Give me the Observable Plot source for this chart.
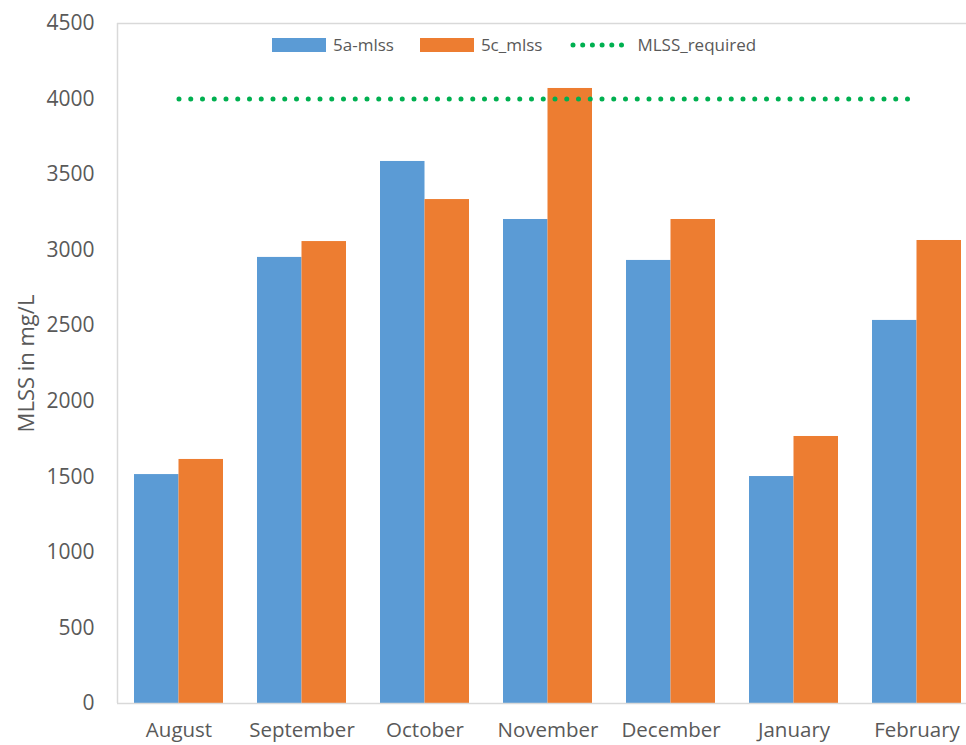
<!DOCTYPE html>
<html>
<head>
<meta charset="utf-8">
<script src="https://cdn.jsdelivr.net/npm/d3@7"></script>
<script src="https://cdn.jsdelivr.net/npm/@observablehq/plot@0.6"></script>
<style>
  html, body { margin: 0; padding: 0; background: #fff; }
  #wrap { position: relative; width: 966px; height: 745px; font-family: "Open Sans", sans-serif; }
  .legend { position: absolute; top: 33px; left: 272px; display: flex; align-items: center; font-size: 17px; color: #595959; }
  .legend .item { display: flex; align-items: center; }
  .sw { width: 54px; height: 14px; margin-right: 7px; }
  .dots { width: 54px; height: 6px; margin-right: 13px; }
</style>
</head>
<body>
<div id="wrap"></div>
<script>
const months = ["August", "September", "October", "November", "December", "January", "February"];
const mlss5a = [1515, 2952, 3587, 3203, 2932, 1502, 2535];
const mlss5c = [1615, 3057, 3335, 4070, 3203, 1767, 3064];
const required = [4000, 4000, 4000, 4000, 4000, 4000, 4000];
const seriesNames = ["5a-mlss", "5c_mlss"];
const seriesColors = ["#5b9bd5", "#ed7d31"];
const yTicks = [0, 500, 1000, 1500, 2000, 2500, 3000, 3500, 4000, 4500];

const bars = [];
months.forEach((m, i) => {
  bars.push({month: m, series: seriesNames[0], value: mlss5a[i]});
  bars.push({month: m, series: seriesNames[1], value: mlss5c[i]});
});
const req = months.map((m, i) => ({month: m, value: required[i]}));

const font = "'Open Sans', sans-serif";
const plot = Plot.plot({
  width: 966,
  height: 745,
  marginTop: 23,
  marginBottom: 42,
  marginLeft: 117,
  marginRight: 0,
  style: {fontFamily: font, fontSize: "20px", color: "#595959", background: "#fff"},
  x: {domain: months, range: [117, 978], paddingInner: 0.276, paddingOuter: 0.138, label: null},
  y: {domain: [0, 4500], ticks: yTicks, label: null},
  color: {domain: seriesNames, range: seriesColors},
  marks: [
    Plot.ruleY([4500], {stroke: "#d9d9d9", strokeWidth: 1.5}),
    Plot.barY(bars, {x: "month", y1: 0, y2: "value", fill: "series",
      render: (index, scales, values, dims, context, next) => {
        const g = next(index, scales, values, dims, context);
        const bw = scales.x.bandwidth();
        d3.select(g).selectAll("rect").each(function(d, j) {
          const i = index[j];
          const sel = d3.select(this);
          const x0 = +sel.attr("x");
          const isSecond = bars[i].series === seriesNames[1];
          sel.attr("width", bw / 2).attr("x", x0 + (isSecond ? bw / 2 : 0));
        });
        return g;
      }
    }),
    Plot.line(req, {x: "month", y: "value", stroke: "#00b050", strokeWidth: 5,
      strokeLinecap: "round", strokeDasharray: "0,11.75"}),
    Plot.axisY({ticks: yTicks, tickSize: 0, tickPadding: 0, dx: -23, fontSize: 21, tickFormat: d => String(d), label: null}),
    Plot.axisX({tickSize: 0, tickPadding: 19, fontSize: 20.5, label: null}),
    Plot.text(["MLSS in mg/L"], {frameAnchor: "left", textAnchor: "middle", dx: -91, dy: 0, rotate: -90, fontSize: 22, fill: "#595959"})
  ]
});
const wrap = document.getElementById("wrap");
wrap.appendChild(plot);
const svg = d3.select(plot);
svg.append("line").attr("x1", 117.5).attr("x2", 117.5).attr("y1", 23).attr("y2", 703).attr("stroke", "#d9d9d9").attr("stroke-width", 1.5);
svg.append("line").attr("x1", 117).attr("x2", 978).attr("y1", 703.5).attr("y2", 703.5).attr("stroke", "#d9d9d9").attr("stroke-width", 1.5);

const legend = document.createElement("div");
legend.className = "legend";
legend.innerHTML = `
  <div class="item"><div class="sw" style="background:${seriesColors[0]}"></div><span>${seriesNames[0]}</span></div>
  <div class="item" style="margin-left:26px"><div class="sw" style="background:${seriesColors[1]}"></div><span>${seriesNames[1]}</span></div>
  <div class="item" style="margin-left:28px"><svg class="dots" width="54" height="6"><line x1="3" x2="52" y1="3" y2="3" stroke="#00b050" stroke-width="5" stroke-linecap="round" stroke-dasharray="0,9.7"/></svg><span>MLSS_required</span></div>`;
wrap.appendChild(legend);
</script>
</body>
</html>
